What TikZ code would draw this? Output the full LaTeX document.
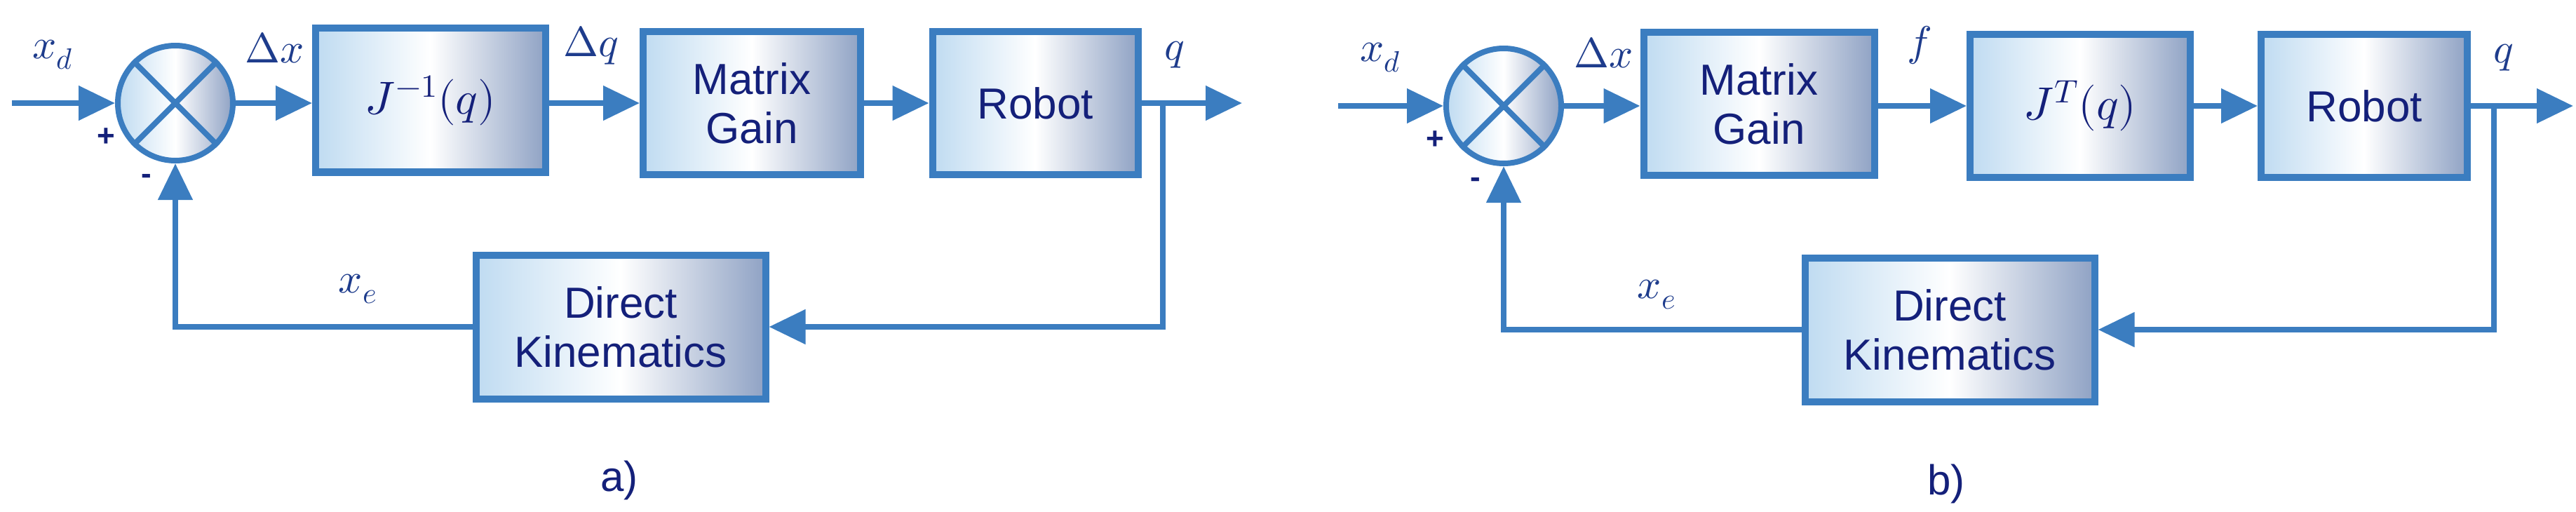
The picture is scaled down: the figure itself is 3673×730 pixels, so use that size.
\documentclass[tikz,border=0pt]{standalone}
\usepackage{unicode-math}
\setsansfont{Liberation Sans}
\usetikzlibrary{arrows.meta}
\definecolor{ln}{HTML}{3B7DC0}
\definecolor{tx}{HTML}{14207A}
\definecolor{mt}{HTML}{1E3C8C}
\definecolor{gl}{HTML}{BFDBF1}
\definecolor{gr}{HTML}{8FA2C4}
\tikzset{
  blk/.style={draw=ln,line width=10pt,left color=gl,right color=gr,middle color=white,
    inner sep=0pt,font=\sffamily\fontsize{62}{70}\selectfont,text=tx,align=center},
  sumc/.style={circle,draw=ln,line width=8pt,left color=gl,right color=gr,middle color=white,minimum size=164pt,inner sep=0pt},
  wire/.style={draw=ln,line width=8pt},
  arr/.style={wire,-{Triangle[length=52pt,width=48pt]}},
  lab/.style={text=mt,font=\fontsize{60}{60}\selectfont},
  blkm/.style={blk,font=\fontsize{66}{66}\selectfont},
  sgn/.style={text=tx,font=\sffamily\bfseries\fontsize{44}{44}\selectfont},
  captxt/.style={text=tx,font=\sffamily\fontsize{60}{60}\selectfont}
}
\begin{document}
\begin{tikzpicture}[x=1pt,y=-1pt]
\useasboundingbox (0,0) rectangle (3673,730);
% ---------- panel a
\coordinate (ain) at (17,147);
\node[sumc] (as) at (250,147) {};
\draw[wire] (as.45) -- (as.225) (as.135) -- (as.315);
\node[blkm,minimum width=328pt,minimum height=205pt] (aj) at (614,143) {$J^{-1}(q)$};
\node[blk,minimum width=310pt,minimum height=204pt] (amg) at (1072,147) {Matrix\\Gain};
\node[blk,minimum width=293pt,minimum height=204pt] (arb) at (1476,147) {Robot};
\node[blk,minimum width=413pt,minimum height=205pt] (adk) at (885,466) {Direct\\Kinematics};
\coordinate (aout) at (1771,147);
\coordinate (abr) at (1658,147);
\draw[arr] (ain) -- (as);
\draw[arr] (as) -- (as -| aj.west);
\draw[arr] (aj.east |- amg) -- (amg);
\draw[arr] (amg) -- (arb);
\draw[arr] (arb) -- (aout);
\draw[arr] (abr) |- (adk);
\draw[arr] (adk) -| (as);
\node[lab] at (75,78) {$x_d$};
\node[lab] at (392,68) {$\Delta x$};
\node[lab] at (843,65) {$\Delta q$};
\node[lab] at (1675,78) {$q$};
\node[lab] at (510,412) {$x_e$};
\node[sgn] at (151,196) {+};
\node[sgn] at (209,255) {-};
\node[captxt] at (883,685) {a)};
% ---------- panel b
\coordinate (bin) at (1908,151);
\node[sumc] (bs) at (2144,151) {};
\draw[wire] (bs.45) -- (bs.225) (bs.135) -- (bs.315);
\node[blk,minimum width=329pt,minimum height=204pt] (bmg) at (2508,148) {Matrix\\Gain};
\node[blkm,minimum width=314pt,minimum height=204pt] (bj) at (2966,151) {$J^{T}(q)$};
\node[blk,minimum width=294pt,minimum height=204pt] (brb) at (3371,151) {Robot};
\node[blk,minimum width=413pt,minimum height=205pt] (bdk) at (2780,470) {Direct\\Kinematics};
\coordinate (bout) at (3669,151);
\coordinate (bbr) at (3556,151);
\draw[arr] (bin) -- (bs);
\draw[arr] (bs) -- (bs -| bmg.west);
\draw[arr] (bmg.east |- bj) -- (bj);
\draw[arr] (bj) -- (brb);
\draw[arr] (brb) -- (bout);
\draw[arr] (bbr) |- (bdk);
\draw[arr] (bdk) -| (bs);
\node[lab] at (1968,82) {$x_d$};
\node[lab] at (2287,75) {$\Delta x$};
\node[lab] at (2737,65) {$f$};
\node[lab] at (3570,82) {$q$};
\node[lab] at (2362,420) {$x_e$};
\node[sgn] at (2046,200) {+};
\node[sgn] at (2104,260) {-};
\node[captxt] at (2775,690) {b)};
\end{tikzpicture}
\end{document}
